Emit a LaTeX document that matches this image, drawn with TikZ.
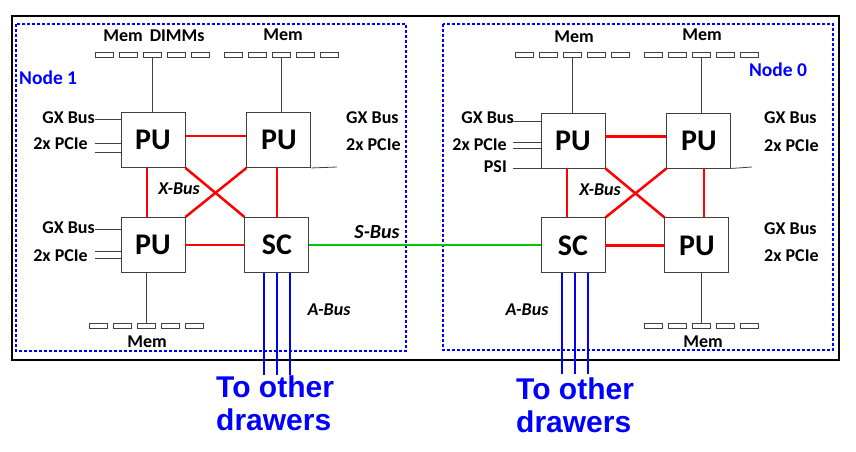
\documentclass[tikz,border=0pt]{standalone}
\usepackage{fontspec}
\setmainfont{Carlito}
\newfontfamily\drawerfont{Liberation Sans}
\usetikzlibrary{positioning}
\definecolor{BusRed}{HTML}{FF0000}
\definecolor{BusGreen}{HTML}{00C800}
\definecolor{BusBlue}{HTML}{0000FF}
\definecolor{WireGray}{HTML}{404040}

\begin{document}
\begin{tikzpicture}[
    x=1pt, y=-1pt,
    every node/.style={align=center, inner sep=0pt},
    chip/.style={draw=WireGray, fill=white, line width=0.9pt, minimum width=64pt, minimum height=55pt, font=\fontsize{30}{30}\selectfont\bfseries},
    dimm/.style={draw=WireGray, fill=white, line width=0.8pt, minimum width=18pt, minimum height=5pt},
    lbl/.style={font=\fontsize{18}{18}\selectfont\bfseries},
    buslbl/.style={font=\fontsize{18}{18}\selectfont\bfseries\itshape},
    nodelbl/.style={text=BusBlue, font=\fontsize{19.5}{19.5}\selectfont\bfseries},
    drawer/.style={text=BusBlue, align=left, font=\drawerfont\bfseries\fontsize{30}{33}\selectfont},
    nodebox/.style={BusBlue, line width=1.3pt, dash pattern=on 3pt off 2pt},
    wire/.style={WireGray, line width=0.8pt},
    xbus/.style={BusRed, line width=2.5pt},
    sbus/.style={BusGreen, line width=2.5pt},
    abus/.style={BusBlue, line width=2.6pt}
  ]
  \useasboundingbox (0,0) rectangle (856,451);

  % drawer and nodes
  \draw[line width=1.8pt] (12,16) rectangle (839,360);
  \draw[nodebox] (16,24) rectangle (406,351);
  \draw[nodebox] (443,24) rectangle (833,350);

  % Node 1
  \node[chip] (puA) at (153,140) {PU};
  \node[chip, right=61pt of puA] (puB) {PU};
  \node[chip, below=49pt of puA] (puC) {PU};
  \node[chip, right=59pt of puC] (scA) {SC};

  % Node 0
  \node[chip] (puD) at (573,140.5) {PU};
  \node[chip, right=61pt of puD] (puE) {PU};
  \node[chip, below=49pt of puD] (scB) {SC};
  \node[chip, right=59pt of scB] (puF) {PU};

  % memory DIMMs
  \foreach \i in {1,...,5} {
    \node[dimm] (ma\i) at ({80+24*\i},55) {};
    \node[dimm] (mb\i) at ({209+24*\i},55) {};
    \node[dimm] (mc\i) at ({74+24*\i},326) {};
    \node[dimm] (md\i) at ({500+24*\i},55) {};
    \node[dimm] (me\i) at ({629+24*\i},55) {};
    \node[dimm] (mf\i) at ({629+24*\i},326) {};
  }
  \draw[wire] (ma3.south) -- (ma3.south |- puA.north);
  \draw[wire] (mb3.south) -- (mb3.south |- puB.north);
  \draw[wire] (mc3.north) -- (mc3.north |- puC.south);
  \draw[wire] (md3.south) -- (md3.south |- puD.north);
  \draw[wire] (me3.south) -- (me3.south |- puE.north);
  \draw[wire] (mf3.north) -- (mf3.north |- puF.south);

  \node[lbl] (memA) at (154,36) {Mem\hspace{7pt}DIMMs};
  \node[lbl] (memB) at (283,35) {Mem};
  \node[lbl] (memC) at (147,342) {Mem};
  \node[lbl] (memD) at (574,37) {Mem};
  \node[lbl] (memE) at (702,35) {Mem};
  \node[lbl] (memF) at (703,342) {Mem};

  \node[nodelbl, anchor=west] (n1) at (19,78) {Node 1};
  \node[nodelbl] (n0) at (778,70) {Node 0};

  % I/O stubs
  \node[lbl, anchor=east] (gxA) at (95,118) {GX Bus};
  \node[lbl, anchor=east] (pcA) at (88,144) {2x PCIe};
  \node[lbl, anchor=west] (gxB) at (346,118) {GX Bus};
  \node[lbl, anchor=west] (pcB) at (346,145) {2x PCIe};
  \node[lbl, anchor=east] (gxC) at (95,228) {GX Bus};
  \node[lbl, anchor=east] (pcC) at (88,256) {2x PCIe};
  \node[lbl, anchor=east] (gxD) at (514,118) {GX Bus};
  \node[lbl, anchor=east] (pcD) at (507,145) {2x PCIe};
  \node[lbl, anchor=east] (psiD) at (507,167) {PSI};
  \node[lbl, anchor=west] (gxE) at (764,118) {GX Bus};
  \node[lbl, anchor=west] (pcE) at (764,146) {2x PCIe};
  \node[lbl, anchor=west] (gxF) at (764,229) {GX Bus};
  \node[lbl, anchor=west] (pcF) at (764,256) {2x PCIe};

  \foreach \y in {119,143,152} {
    \coordinate (s) at (95,\y);
    \draw[wire] (s) -- (s -| puA.west);
  }
  \foreach \y in {229,251,258} {
    \coordinate (s) at (95,\y);
    \draw[wire] (s) -- (s -| puC.west);
  }
  \foreach \y in {121,142,148,168} {
    \coordinate (s) at (513,\y);
    \draw[wire] (s) -- (s -| puD.west);
  }
  \coordinate (stB) at (337,167);
  \coordinate (stE) at (752,167);
  \draw[wire] (puB.south east) -- (stB);
  \draw[wire] (puE.south east) -- (stE);

  % X-Bus
  \draw[xbus] ([yshift=4pt]puA.east) -- ([yshift=4pt]puB.west);
  \coordinate (xa) at ([xshift=-6pt]puA.south);
  \draw[xbus] (xa) -- (xa |- puC.north);
  \draw[xbus] (scA.north) -- (scA.north |- puB.south);
  \draw[xbus] (puA.south east) -- (scA.north west);
  \draw[xbus] (puB.south west) -- (puC.north east);
  \draw[xbus] (puC) -- (scA);

  \draw[xbus] ([yshift=4pt]puD.east) -- ([yshift=4pt]puE.west);
  \coordinate (xd) at ([xshift=-6pt]puD.south);
  \draw[xbus] (xd) -- (xd |- scB.north);
  \coordinate (xe) at ([xshift=5pt]puE.south);
  \draw[xbus] (xe) -- (xe |- puF.north);
  \draw[xbus] (puD.south east) -- (puF.north west);
  \draw[xbus] (puE.south west) -- (scB.north east);
  \draw[xbus] (scB) -- (puF);

  \node[buslbl] (xlA) at (179,189) {X-Bus};
  \node[buslbl] (xlB) at (600,190) {X-Bus};

  % S-Bus
  \draw[sbus] (scA.east) -- (scA.east -| scB.west);
  \node[buslbl, font=\fontsize{20}{20}\selectfont\bfseries\itshape] (sl) at (377,232) {S-Bus};

  % A-Bus
  \node[drawer, anchor=north west] (drwA) at (216,376) {To other\\drawers};
  \node[drawer, anchor=north west] (drwB) at (516,378) {To other\\drawers};
  \foreach \d in {-13,0,13} {
    \coordinate (aa) at ([xshift=\d pt]scA.south);
    \draw[abus] (aa) -- ++(0,102);
  }
  \foreach \d in {-11,2,15} {
    \coordinate (ab) at ([xshift=\d pt]scB.south);
    \draw[abus] (ab) -- ++(0,101);
  }
  \node[buslbl] (alA) at (329,310) {A-Bus};
  \node[buslbl] (alB) at (527,310) {A-Bus};

\end{tikzpicture}
\end{document}
